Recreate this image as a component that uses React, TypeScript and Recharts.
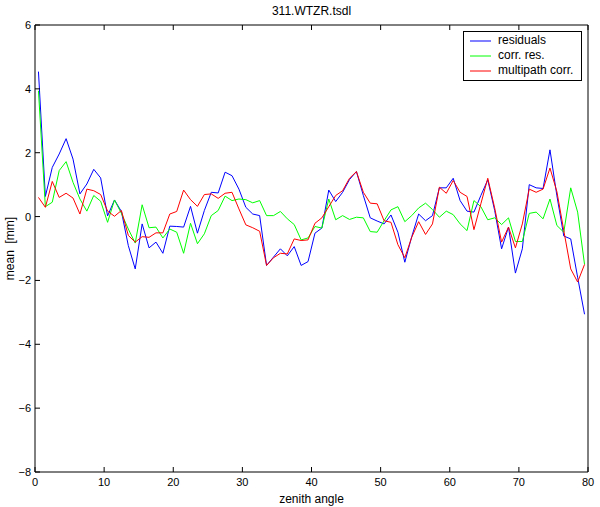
import { Legend, Line, LineChart, XAxis, YAxis } from 'recharts'

// One value per zenith-angle bin (bins centred at 0.5, 1.5, ... 79.5 deg).
const RESIDUALS = [
  4.54, 0.63, 1.54, 1.96, 2.44, 1.8, 0.71, 1.02, 1.48, 1.21,
  0.02, 0.52, 0.16, -0.91, -1.64, -0.23, -0.98, -0.8, -1.15, -0.3,
  -0.31, -0.33, 0.32, -0.52, 0.19, 0.76, 0.74, 1.39, 1.28, 0.86,
  0.29, 0.08, 0.03, -1.53, -1.27, -1.01, -1.23, -0.94, -1.53, -1.41,
  -0.52, -0.36, 0.83, 0.47, 0.76, 1.16, 1.41, 0.66, -0.04, -0.14,
  -0.23, 0.05, -0.49, -1.43, -0.63, 0.08, -0.13, 0.03, 0.9, 0.9,
  1.2, 0.5, 0.17, 0.14, 0.66, 1.15, 0.19, -1.01, -0.33, -1.77,
  -1.01, 1.0, 0.9, 0.88, 2.09, 0.65, -0.61, -0.7, -1.9, -3.06,
]

const CORR_RES = [
  3.94, 0.31, 0.45, 1.44, 1.72, 1.07, 0.55, 0.17, 0.66, 0.48,
  -0.18, 0.52, 0.1, -0.39, -0.83, 0.37, -0.35, -0.33, -0.67, -0.39,
  -0.49, -1.15, -0.21, -0.85, -0.54, 0.03, 0.19, 0.64, 0.5, 0.55,
  0.53, 0.43, 0.5, 0.03, 0.03, 0.16, -0.07, -0.25, -0.73, -0.67,
  -0.31, -0.36, 0.55, -0.1, 0.03, -0.09, -0.02, -0.04, -0.47, -0.49,
  -0.13, 0.21, 0.31, -0.16, 0.03, 0.27, 0.42, 0.22, -0.02, 0.17,
  0.06, -0.23, -0.44, 0.5, 0.31, -0.1, -0.04, -0.25, -0.04, -0.78,
  -0.78, 0.1, 0.14, -0.07, 0.55, -0.28, -0.49, 0.9, 0.14, -1.5,
]

const MULTIPATH = [
  0.6, 0.29, 1.1, 0.6, 0.73, 0.58, 0.08, 0.86, 0.81, 0.69,
  0.17, 0.01, 0.19, -0.59, -0.8, -0.63, -0.65, -0.51, -0.51, 0.08,
  0.16, 0.83, 0.53, 0.32, 0.69, 0.71, 0.57, 0.73, 0.76, 0.24,
  -0.26, -0.35, -0.46, -1.53, -1.29, -1.15, -1.17, -0.7, -0.75, -0.73,
  -0.21, -0.04, 0.31, 0.66, 0.81, 1.2, 1.41, 0.76, 0.42, 0.4,
  -0.13, -0.18, -0.88, -1.29, -0.65, -0.16, -0.56, -0.23, 0.92, 0.73,
  1.13, 0.76, 0.63, -0.41, 0.4, 1.2, 0.27, -0.8, -0.33, -0.98,
  -0.23, 0.86, 0.76, 0.86, 1.52, 0.78, -0.44, -1.64, -2.05, -1.5,
]

// bin centres
const ANGLES = RESIDUALS.map((_, i) => i + 0.5)

const X_TICKS = [0, 10, 20, 30, 40, 50, 60, 70, 80]
const Y_TICKS = [-8, -6, -4, -2, 0, 2, 4, 6]

// legend order as in the original figure
const SERIES_ORDER = ['residuals', 'corr. res.', 'multipath corr.']

const FONT = '"Liberation Sans", Arial, Helvetica, sans-serif'

const chartData = ANGLES.map((x, i) => ({
  x,
  residuals: RESIDUALS[i],
  corr: CORR_RES[i],
  multipath: MULTIPATH[i],
}))

const fmt = (v: number) => (v < 0 ? '\u2212' + Math.abs(v) : String(v))

// MATLAB-style ticks: short marks pointing into the plot box
function BottomTick({ x, y, payload }: any) {
  return (
    <g>
      <line x1={x} x2={x} y1={y} y2={y - 5} stroke="#000" />
      <text x={x} y={y + 14} textAnchor="middle" fontSize={11} fontFamily={FONT} fill="#000">
        {fmt(payload.value)}
      </text>
    </g>
  )
}

function TopTick({ x, y }: any) {
  return <line x1={x} x2={x} y1={y} y2={y + 5} stroke="#000" />
}

function LeftTick({ x, y, payload }: any) {
  return (
    <g>
      <line x1={x} x2={x + 5} y1={y} y2={y} stroke="#000" />
      <text x={x - 4} y={y + 4} textAnchor="end" fontSize={11} fontFamily={FONT} fill="#000">
        {fmt(payload.value)}
      </text>
    </g>
  )
}

function RightTick({ x, y }: any) {
  return <line x1={x} x2={x - 5} y1={y} y2={y} stroke="#000" />
}

function LegendBox({ payload }: any) {
  const items = [...(payload || [])].sort(
    (a: any, b: any) => SERIES_ORDER.indexOf(a.value) - SERIES_ORDER.indexOf(b.value),
  )
  return (
    <div
      style={{
        border: '1px solid #000',
        background: '#fff',
        padding: '1px 0 2px 0',
        fontFamily: FONT,
        fontSize: 12,
        lineHeight: '15px',
        color: '#000',
        textAlign: 'left',
      }}
    >
      {items.map((item: any) => (
        <div key={item.value} style={{ display: 'flex', alignItems: 'center', whiteSpace: 'nowrap' }}>
          <svg width={34} height={15} style={{ flex: 'none' }}>
            <line x1={6} x2={27} y1={8} y2={8} stroke={item.color} />
          </svg>
          <span>{item.value}</span>
        </div>
      ))}
    </div>
  )
}

export default function App() {
  return (
    <div style={{ position: 'absolute', left: 0, top: 0, width: 600, height: 507, background: '#fff' }}>
      <div
        style={{
          position: 'absolute',
          left: 0,
          top: 4,
          width: 623,
          textAlign: 'center',
          fontFamily: FONT,
          fontSize: 12,
          color: '#000',
          zIndex: 1,
        }}
      >
        311.WTZR.tsdl
      </div>
      <LineChart
        width={600}
        height={507}
        data={chartData}
        margin={{ top: 24, right: 11, bottom: 0, left: 0 }}
        style={{ fontFamily: FONT }}
      >
        <XAxis
          xAxisId="b"
          dataKey="x"
          type="number"
          domain={[0, 80]}
          ticks={X_TICKS}
          interval={0}
          height={35}
          tickSize={0}
          tickMargin={0}
          tickLine={false}
          tick={<BottomTick />}
          axisLine={{ stroke: '#000' }}
          label={{
            value: 'zenith angle',
            position: 'insideBottom',
            offset: 4,
            fontSize: 12,
            fill: '#000',
            fontFamily: FONT,
          }}
        />
        <XAxis
          xAxisId="t"
          orientation="top"
          dataKey="x"
          type="number"
          domain={[0, 80]}
          ticks={X_TICKS}
          interval={0}
          height={1}
          tickSize={0}
          tickMargin={0}
          tickLine={false}
          tick={<TopTick />}
          axisLine={{ stroke: '#000' }}
        />
        <YAxis
          yAxisId="l"
          type="number"
          domain={[-8, 6]}
          ticks={Y_TICKS}
          interval={0}
          width={35}
          tickSize={0}
          tickMargin={0}
          tickLine={false}
          tick={<LeftTick />}
          axisLine={{ stroke: '#000' }}
          label={{
            value: 'mean\u00a0 [mm]',
            angle: -90,
            position: 'insideLeft',
            offset: 10,
            fontSize: 12,
            fill: '#000',
            fontFamily: FONT,
            style: { textAnchor: 'middle' },
          }}
        />
        <YAxis
          yAxisId="r"
          orientation="right"
          type="number"
          domain={[-8, 6]}
          ticks={Y_TICKS}
          interval={0}
          width={1}
          tickSize={0}
          tickMargin={0}
          tickLine={false}
          tick={<RightTick />}
          axisLine={{ stroke: '#000' }}
        />
        <Legend
          layout="horizontal"
          verticalAlign="middle"
          align="center"
          content={<LegendBox />}
          wrapperStyle={{ position: 'absolute', left: 463, top: 31, width: 119, height: 'auto' }}
        />
        <Line
          xAxisId="b"
          yAxisId="l"
          name="residuals"
          dataKey="residuals"
          type="linear"
          stroke="#0000ff"
          strokeWidth={1}
          dot={false}
          isAnimationActive={false}
        />
        <Line
          xAxisId="b"
          yAxisId="l"
          name="corr. res."
          dataKey="corr"
          type="linear"
          stroke="#00ff00"
          strokeWidth={1}
          dot={false}
          isAnimationActive={false}
        />
        <Line
          xAxisId="b"
          yAxisId="l"
          name="multipath corr."
          dataKey="multipath"
          type="linear"
          stroke="#ff0000"
          strokeWidth={1}
          dot={false}
          isAnimationActive={false}
        />
      </LineChart>
    </div>
  )
}
